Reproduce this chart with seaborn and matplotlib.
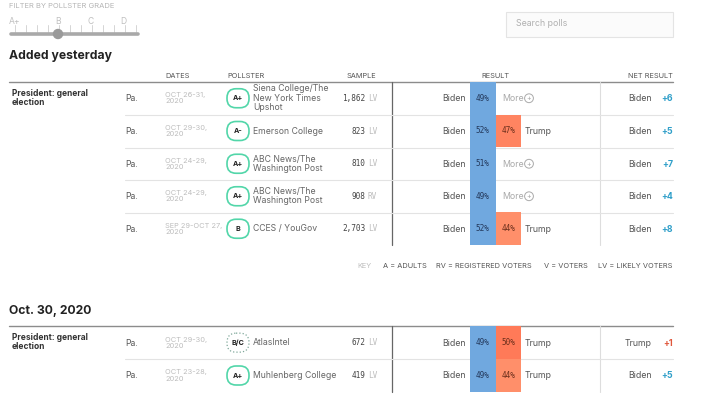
import matplotlib
matplotlib.use('Agg')
import matplotlib.pyplot as plt
from matplotlib.colors import ListedColormap, LinearSegmentedColormap
from matplotlib.patches import FancyBboxPatch, Circle, Rectangle
import numpy as np
import seaborn as sns

# poll rows, first section then second section
states = ['Pa.'] * 7
dates = ['OCT 26-31,\n2020', 'OCT 29-30,\n2020', 'OCT 24-29,\n2020', 'OCT 24-29,\n2020',
         'SEP 29-OCT 27,\n2020', 'OCT 29-30,\n2020', 'OCT 23-28,\n2020']
grades = ['A+', 'A-', 'A+', 'A+', 'B', 'B/C', 'A+']
pollsters = ['Siena College/The\nNew York Times\nUpshot', 'Emerson College',
             'ABC News/The\nWashington Post', 'ABC News/The\nWashington Post',
             'CCES / YouGov', 'AtlasIntel', 'Muhlenberg College']
samples = ['1,862', '823', '810', '908', '2,703', '672', '419']
populations = ['LV', 'LV', 'LV', 'RV', 'LV', 'LV', 'LV']
biden = [49, 52, 51, 49, 52, 49, 49]
trump = [np.nan, 47, np.nan, np.nan, 44, 50, 44]
net_names = ['Biden', 'Biden', 'Biden', 'Biden', 'Biden', 'Trump', 'Biden']
net_values = ['+6', '+5', '+7', '+4', '+8', '+1', '+5']

slider_labels = ['A+', 'B', 'C', 'D']
key_items = ['A = ADULTS', 'RV = REGISTERED VOTERS', 'V = VOTERS', 'LV = LIKELY VOTERS']

sns.set_theme(style='white')
plt.rcParams['font.family'] = ['Inter', 'DejaVu Sans']

W, H = 705, 400
fig = plt.figure(figsize=(W / 100, H / 100), dpi=100, facecolor='white')
ax = fig.add_axes([0, 0, 1, 1])
ax.set_xlim(0, W)
ax.set_ylim(H, 0)
ax.axis('off')


def px(size):
    return size * 0.72


def txt(x, y, s, size=9.5, color='#555555', ha='left', weight='normal', **kw):
    ax.text(x, y, s, fontsize=px(size), color=color, ha=ha, va='center',
            fontweight=weight, linespacing=1.05, **kw)


# filter slider
txt(9, 5.5, 'FILTER BY POLLSTER GRADE', 7.6, '#b5b5b5')
for s, x in zip(slider_labels, [15, 58, 91, 123]):
    txt(x, 21, s, 8.5, '#c0c0c0', ha='center')
for x in np.arange(15, 139, 11):
    ax.plot([x, x], [25, 32], color='#d5d5d5', lw=0.7)
ax.plot([11, 138], [34, 34], color='#a9a9a9', lw=2.6, solid_capstyle='round')
ax.add_patch(Circle((58, 34), 4.5, color='#9a9a9a', zorder=3))

# search box
ax.add_patch(Rectangle((505.5, 11.5), 167, 25, fc='#fbfbfb', ec='#e4e4e4', lw=0.8))
txt(516, 24, 'Search polls', 8.8, '#b0b0b0')


def section(title, title_y, line_y, row_edges, idx):
    txt(9, title_y, title, 12.2, '#222222', weight='bold')
    ax.plot([9, 673], [line_y, line_y], color='#8c8c8c', lw=1.0)
    txt(12, line_y + 12, 'President: general', 8.4, '#333333', weight='bold')
    txt(12, line_y + 20.5, 'election', 8.4, '#333333', weight='bold')
    ax.plot([391.5, 391.5], [line_y, row_edges[-1]], color='#666666', lw=0.9)
    ax.plot([599.5, 599.5], [line_y, row_edges[-1]], color='#dddddd', lw=0.8)
    for y in row_edges[1:-1]:
        ax.plot([125, 673], [y, y], color='#e3e3e3', lw=0.8)

    for i, top, bot in zip(idx, row_edges[:-1], row_edges[1:]):
        y = (top + bot) / 2
        txt(125.5, y + 0.5, states[i], 8.6, '#555555')
        txt(165, y, dates[i], 7.4, '#bdbdbd')
        dotted = grades[i] == 'B/C'
        ax.add_patch(FancyBboxPatch((236, y - 0.5), 4, 1,
                                    boxstyle='round,pad=9,rounding_size=9',
                                    fc='white', ec='#7fa89a' if dotted else '#52d6a9',
                                    lw=0.9 if dotted else 1.2,
                                    ls=':' if dotted else '-', zorder=3))
        txt(238, y, grades[i], 7.2, '#222222', ha='center', weight='bold', zorder=4)
        txt(253, y, pollsters[i], 8.7, '#666666')
        txt(365.5, y, samples[i], 7.8, '#444444', ha='right', family='DejaVu Sans Mono')
        txt(368, y, populations[i], 7.8, '#bdbdbd', family='DejaVu Sans Mono')
        txt(465.7, y + 0.5, 'Biden', 8.8, '#555555', ha='right')
        if np.isnan(trump[i]):
            txt(502, y + 0.5, 'More', 8.8, '#aaaaaa')
            ax.add_patch(Circle((529, y), 4.4, fc='white', ec='#aaaaaa', lw=0.7))
            txt(529, y, '+', 7, '#aaaaaa', ha='center')
        else:
            txt(524.7, y + 0.5, 'Trump', 8.8, '#555555')
        txt(652, y + 0.5, net_names[i], 8.8, '#555555', ha='right')
        col = '#e0573c' if net_names[i] == 'Trump' else '#2f9fc9'
        txt(673, y + 0.5, net_values[i], 8.8, col, ha='right', weight='bold')

    # result cells
    x0, x1 = 469.7, 521.3
    cell_ax = fig.add_axes([x0 / W, 1 - row_edges[-1] / H, (x1 - x0) / W,
                            (row_edges[-1] - line_y) / H], zorder=2)
    vals = np.array([[biden[i], trump[i]] for i in idx], dtype=float)
    labels = np.array([[f'{biden[i]}%', '' if np.isnan(trump[i]) else f'{trump[i]:.0f}%'] for i in idx])
    left = vals.copy()
    left[:, 1] = np.nan
    right = vals.copy()
    right[:, 0] = np.nan
    kw = dict(xticklabels=False, yticklabels=False, cbar=False, fmt='', ax=cell_ax)
    sns.heatmap(left, cmap=ListedColormap(['#70a8df']), annot=labels, mask=np.isnan(left),
                annot_kws=dict(fontsize=px(7.8), color='#24395c', family='DejaVu Sans Mono'), **kw)
    sns.heatmap(right, cmap=LinearSegmentedColormap.from_list('tr', ['#ff8f6a', '#ff7a58']),
                vmin=44, vmax=50, annot=labels, mask=np.isnan(right),
                annot_kws=dict(fontsize=px(7.8), color='#6b2f1c', family='DejaVu Sans Mono'), **kw)
    cell_ax.axis('off')
    cell_ax.patch.set_alpha(0)


# column headers
for x, s, ha in [(165, 'DATES', 'left'), (227, 'POLLSTER', 'left'), (361, 'SAMPLE', 'center'),
                 (495, 'RESULT', 'center'), (673, 'NET RESULT', 'right')]:
    txt(x, 76, s, 7.4, '#555555', ha=ha)

section('Added yesterday', 56, 82, [82, 114.5, 147.5, 180, 212.5, 245], [0, 1, 2, 3, 4])
section('Oct. 30, 2020', 311, 326, [326, 359.3, 391.7], [5, 6])

# key
txt(357, 266, 'KEY', 7.4, '#bdbdbd')
for x, s in zip([383, 436, 544, 598], key_items):
    txt(x, 266, s, 7.4, '#555555')

fig.savefig('out.png', dpi=100)
